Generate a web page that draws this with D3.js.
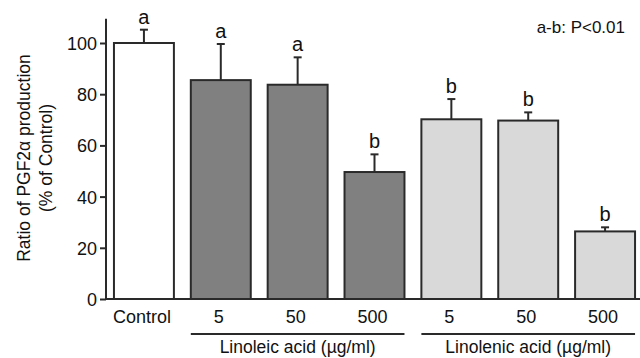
<!DOCTYPE html>
<html>
<head>
<meta charset="utf-8">
<script src="https://cdn.jsdelivr.net/npm/d3@7"></script>
<style>
  body { margin: 0; background: #fff; }
  svg { display: block; font-family: "Liberation Sans", Arial, sans-serif; }
</style>
</head>
<body>
<svg width="640" height="358"></svg>
<script>
var categories = ['Control', 'LA5', 'LA50', 'LA500', 'LN5', 'LN50', 'LN500'];
var tickLabels = ['Control', '5', '50', '500', '5', '50', '500'];
var values = [100, 85.5, 83.7, 49.6, 70.2, 69.7, 26.4];
var errors = [5.2, 14.1, 10.7, 6.9, 7.9, 3.2, 1.6];
var letters = ['a', 'a', 'a', 'b', 'b', 'b', 'b'];
var groupOf = ['control', 'linoleic', 'linoleic', 'linoleic', 'linolenic', 'linolenic', 'linolenic'];
var groups = [
  { name: 'Linoleic acid (µg/ml)', from: 'LA5', to: 'LA500' },
  { name: 'Linolenic acid (µg/ml)', from: 'LN5', to: 'LN500' }
];
var yTicks = [0, 20, 40, 60, 80, 100];

var svg = d3.select('svg');
var colors = { control: '#ffffff', linoleic: '#808080', linolenic: '#d9d9d9' };
var ink = '#2a2a2a';

var xScale = d3.scaleBand()
  .domain(categories)
  .range([105.5, 643.5])
  .paddingInner(0.22)
  .paddingOuter(0.11);

var yScale = d3.scaleLinear()
  .domain([0, 100])
  .range([299, 43]);

// y axis
var yAxis = d3.axisLeft(yScale).tickValues(yTicks).tickSize(6).tickSizeOuter(0);
var yAxisGroup = svg.append('g')
  .attr('transform', 'translate(106,0)')
  .call(yAxis);
yAxisGroup.select('.domain').remove();
yAxisGroup.selectAll('line').attr('stroke', ink).attr('stroke-width', 2);
yAxisGroup.selectAll('text')
  .attr('fill', '#111')
  .style('font-size', '18px')
  .attr('x', -9)
  .attr('dy', '0.36em');
svg.append('line')
  .attr('x1', 106).attr('x2', 106)
  .attr('y1', yScale(109.5)).attr('y2', yScale(0) + 1)
  .attr('stroke', ink).attr('stroke-width', 2);

var data = categories.map(function(c, i) {
  return { cat: c, value: values[i], err: errors[i], letter: letters[i], group: groupOf[i] };
});

// error bars (upper only)
svg.selectAll('.err').data(data).enter().append('line')
  .attr('class', 'err')
  .attr('x1', function(d) { return xScale(d.cat) + xScale.bandwidth() / 2; })
  .attr('x2', function(d) { return xScale(d.cat) + xScale.bandwidth() / 2; })
  .attr('y1', function(d) { return yScale(d.value); })
  .attr('y2', function(d) { return yScale(d.value + d.err); })
  .attr('stroke', ink).attr('stroke-width', 2);
svg.selectAll('.cap').data(data).enter().append('line')
  .attr('class', 'cap')
  .attr('x1', function(d) { return xScale(d.cat) + xScale.bandwidth() / 2 - 4; })
  .attr('x2', function(d) { return xScale(d.cat) + xScale.bandwidth() / 2 + 4; })
  .attr('y1', function(d) { return yScale(d.value + d.err); })
  .attr('y2', function(d) { return yScale(d.value + d.err); })
  .attr('stroke', ink).attr('stroke-width', 2);

// bars
svg.selectAll('.bar').data(data).enter().append('rect')
  .attr('class', 'bar')
  .attr('x', function(d) { return xScale(d.cat); })
  .attr('y', function(d) { return yScale(d.value); })
  .attr('width', xScale.bandwidth())
  .attr('height', function(d) { return yScale(0) - yScale(d.value); })
  .attr('fill', function(d) { return colors[d.group]; })
  .attr('stroke', ink).attr('stroke-width', 2);

// significance letters
svg.selectAll('.letter').data(data).enter().append('text')
  .attr('class', 'letter')
  .attr('x', function(d) { return xScale(d.cat) + xScale.bandwidth() / 2; })
  .attr('y', function(d) { return yScale(d.value + d.err) - 6; })
  .attr('text-anchor', 'middle')
  .style('font-size', '20px')
  .attr('fill', '#111')
  .text(function(d) { return d.letter; });

// x axis baseline
svg.append('line')
  .attr('x1', 105).attr('x2', 640)
  .attr('y1', yScale(0)).attr('y2', yScale(0))
  .attr('stroke', ink).attr('stroke-width', 2);

// x tick labels
svg.selectAll('.xlab').data(data).enter().append('text')
  .attr('class', 'xlab')
  .attr('x', function(d) { return xScale(d.cat) + xScale.bandwidth() / 2 - 2; })
  .attr('y', 323)
  .attr('text-anchor', 'middle')
  .style('font-size', '18px')
  .attr('fill', '#111')
  .text(function(d, i) { return tickLabels[i]; });

// group brackets
groups.forEach(function(g) {
  var x1 = xScale(g.from);
  var x2 = xScale(g.to) + xScale.bandwidth();
  svg.append('line')
    .attr('x1', x1).attr('x2', x2)
    .attr('y1', 334).attr('y2', 334)
    .attr('stroke', ink).attr('stroke-width', 2);
  svg.append('text')
    .attr('x', (x1 + x2) / 2)
    .attr('y', 353)
    .attr('text-anchor', 'middle')
    .style('font-size', '17.5px')
    .attr('fill', '#111')
    .text(g.name);
});

// y axis title
var yTitle = svg.append('text')
  .attr('transform', 'translate(0,' + 158 + ') rotate(-90)')
  .attr('text-anchor', 'middle')
  .style('font-size', '17.5px')
  .attr('fill', '#111');
yTitle.append('tspan').attr('x', 0).attr('y', 30).text('Ratio of PGF2α production');
yTitle.append('tspan').attr('x', 0).attr('y', 52).text('(% of Control)');

// note
svg.append('text')
  .attr('x', 625).attr('y', 33)
  .attr('text-anchor', 'end')
  .style('font-size', '17px')
  .attr('fill', '#111')
  .text('a-b: P<0.01');
</script>
</body>
</html>
